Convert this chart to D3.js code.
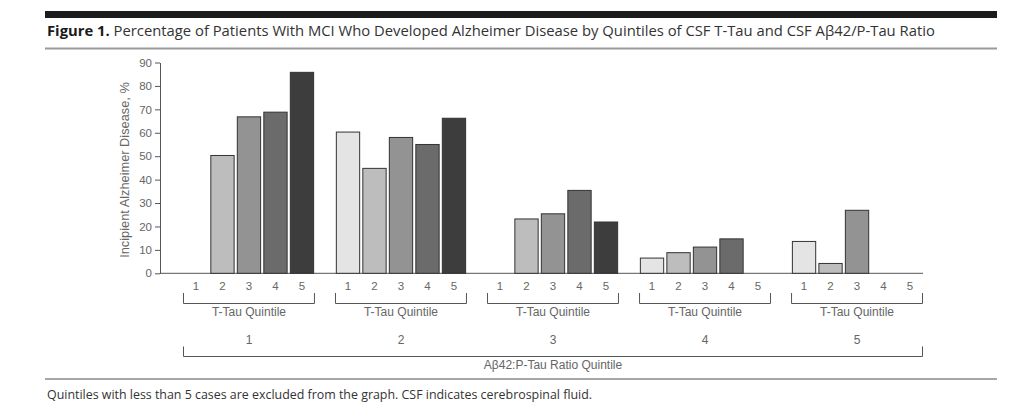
<!DOCTYPE html>
<html><head><meta charset="utf-8">
<script src="https://cdn.jsdelivr.net/npm/d3@7"></script>
<style>body{margin:0;background:#fff}</style>
</head><body><svg id="c" width="1024" height="414"></svg>
<script>
// ---- data ----
const ratioQuintiles = ["1", "2", "3", "4", "5"];
const tauQuintiles = ["1", "2", "3", "4", "5"];
const ratioQ1 = [null, 50.3, 66.8, 68.8, 85.8];
const ratioQ2 = [60.3, 44.8, 58.0, 55.0, 66.2];
const ratioQ3 = [null, 23.2, 25.4, 35.4, 21.9];
const ratioQ4 = [6.5, 8.8, 11.2, 14.7, null];
const ratioQ5 = [13.6, 4.2, 26.9, null, null];
const yTicks = [0, 10, 20, 30, 40, 50, 60, 70, 80, 90];
const titleBold = "Figure 1.";
const titleRest = " Percentage of Patients With MCI Who Developed Alzheimer Disease by Quintiles of CSF T-Tau and CSF A\u03b242/P-Tau Ratio";
const footnote = "Quintiles with less than 5 cases are excluded from the graph. CSF indicates cerebrospinal fluid.";
const yLabel = "Incipient Alzheimer Disease, %";
const tauLabel = "T-Tau Quintile";
const ratioLabel = "A\u03b242:P-Tau Ratio Quintile";

const seriesByRatio = [ratioQ1, ratioQ2, ratioQ3, ratioQ4, ratioQ5];
const fills = ["#e4e4e4", "#bdbdbd", "#939393", "#6b6b6b", "#3d3d3d"];

const svg = d3.select("#c");
const sans = "'Liberation Sans', Arial, sans-serif";
const txtFont = "'Open Sans', 'Noto Sans', sans-serif";

function fitWidth(sel, target) {
  const n = sel.node();
  const w = n.getComputedTextLength();
  const fs = parseFloat(sel.attr("font-size"));
  sel.attr("font-size", fs * target / w);
}

// ---- header ----
svg.append("rect").attr("x", 45).attr("y", 11).attr("width", 952).attr("height", 7).attr("fill", "#1c1c1c");
const title = svg.append("text").attr("x", 47).attr("y", 36).attr("font-family", txtFont).attr("font-size", 15).attr("fill", "#333");
title.append("tspan").attr("font-weight", "bold").attr("fill", "#1a1a1a").text(titleBold);
title.append("tspan").text(titleRest);
fitWidth(title, 889);
svg.append("line").attr("x1", 45).attr("x2", 997).attr("y1", 48.5).attr("y2", 48.5).attr("stroke", "#9a9a9a").attr("stroke-width", 2);

// ---- scales ----
const y = d3.scaleLinear().domain([0, 90]).range([273.3, 62.5]);
const x0 = d3.scaleBand().domain(ratioQuintiles).range([183, 923]).paddingInner(0.132);
const x1 = d3.scaleBand().domain(tauQuintiles).range([0, x0.bandwidth()]).paddingInner(0.12).paddingOuter(0.05);

// ---- y axis ----
const yAxis = svg.append("g").attr("transform", "translate(160,0)")
  .call(d3.axisLeft(y).tickValues(yTicks).tickSize(5).tickSizeOuter(0).tickPadding(3));
yAxis.select(".domain").attr("stroke", "#555");
yAxis.selectAll(".tick line").attr("stroke", "#555");
yAxis.selectAll(".tick text").attr("font-family", sans).attr("font-size", 11.5).attr("fill", "#666");

const yl = svg.append("text").attr("transform", "translate(128.5,170) rotate(-90)")
  .attr("text-anchor", "middle").attr("font-family", sans).attr("font-size", 12.5).attr("fill", "#666").text(yLabel);
fitWidth(yl, 176);

// x baseline
svg.append("line").attr("x1", 160).attr("x2", 923).attr("y1", y(0)).attr("y2", y(0)).attr("stroke", "#555");

// ---- bars ----
const groups = svg.append("g").selectAll("g").data(ratioQuintiles).join("g")
  .attr("transform", d => `translate(${x0(d)},0)`);

groups.selectAll("rect")
  .data((d, i) => tauQuintiles.map((t, j) => ({ t, v: seriesByRatio[i][j], j })).filter(e => e.v != null))
  .join("rect")
  .attr("x", e => x1(e.t))
  .attr("width", x1.bandwidth())
  .attr("y", e => y(e.v))
  .attr("height", e => y(0) - y(e.v))
  .attr("fill", e => fills[e.j])
  .attr("stroke", "#333")
  .attr("stroke-width", 1);

// tau quintile tick labels
groups.selectAll("text.tq").data(tauQuintiles).join("text").attr("class", "tq")
  .attr("x", t => x1(t) + x1.bandwidth() / 2).attr("y", 289.5)
  .attr("text-anchor", "middle").attr("font-family", sans).attr("font-size", 11.5).attr("fill", "#666").text(t => t);

// small brackets
const bw = x0.bandwidth();
groups.append("path")
  .attr("d", `M0.5,293 V303.5 H${bw - 0.5} V293`)
  .attr("fill", "none").attr("stroke", "#555").attr("stroke-width", 1);
groups.append("text").attr("x", bw / 2).attr("y", 316).attr("text-anchor", "middle")
  .attr("font-family", sans).attr("font-size", 12).attr("fill", "#666").text(tauLabel);
groups.append("text").attr("x", bw / 2).attr("y", 344).attr("text-anchor", "middle")
  .attr("font-family", sans).attr("font-size", 12).attr("fill", "#666").text(d => d);

// big bracket
const bx0 = x0.range()[0], bx1 = x0.range()[1];
svg.append("path").attr("d", `M${bx0 + 0.5},346.5 V356.5 H${bx1 - 0.5} V346.5`)
  .attr("fill", "none").attr("stroke", "#555").attr("stroke-width", 1);
svg.append("text").attr("x", (bx0 + bx1) / 2).attr("y", 368.5).attr("text-anchor", "middle")
  .attr("font-family", sans).attr("font-size", 12).attr("fill", "#666").text(ratioLabel);

// ---- footer ----
svg.append("line").attr("x1", 45).attr("x2", 997).attr("y1", 379).attr("y2", 379).attr("stroke", "#8a8a8a").attr("stroke-width", 1.5);
const fn = svg.append("text").attr("x", 47).attr("y", 398.5).attr("font-family", txtFont).attr("font-size", 12).attr("fill", "#333").text(footnote);
fitWidth(fn, 546);
</script>
</body></html>
